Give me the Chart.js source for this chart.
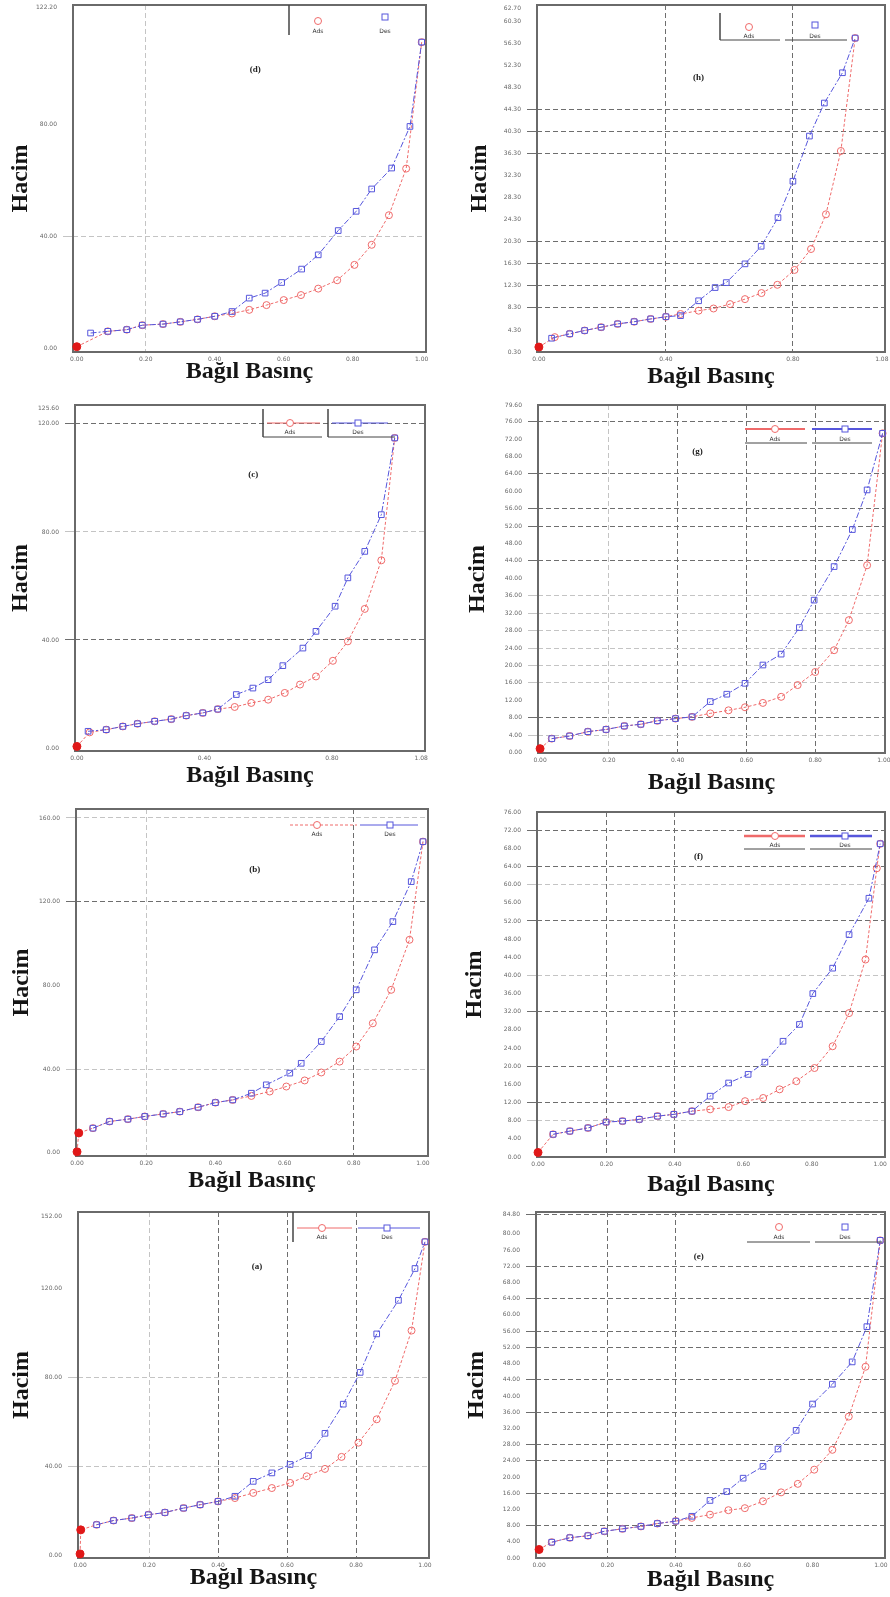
<!DOCTYPE html>
<html><head><meta charset="utf-8">
<script src="https://cdn.jsdelivr.net/npm/chart.js@4"></script>
<style>
html,body{margin:0;padding:0;background:#fff;width:890px;height:1597px;overflow:hidden;}
.pn{position:absolute;}
canvas{display:block;}
</style></head><body>
<script>
// ---------------- DATA ----------------
// (d)
const d_adsX = [0.00, 0.09, 0.145, 0.19, 0.25, 0.30, 0.35, 0.40, 0.45, 0.50, 0.55, 0.60, 0.65, 0.70, 0.755, 0.805, 0.855, 0.905, 0.955, 1.00];
const d_adsY = [0.5, 6.0, 6.6, 8.2, 8.6, 9.4, 10.3, 11.4, 12.4, 13.7, 15.4, 17.2, 19.0, 21.3, 24.3, 29.8, 37.0, 47.6, 64.3, 109.6];
const d_desX = [0.04, 0.09, 0.145, 0.19, 0.25, 0.30, 0.35, 0.40, 0.45, 0.50, 0.546, 0.594, 0.652, 0.70, 0.758, 0.81, 0.855, 0.913, 0.966, 1.00];
const d_desY = [5.4, 6.0, 6.6, 8.2, 8.6, 9.4, 10.3, 11.4, 13.1, 17.9, 19.7, 23.5, 28.3, 33.4, 42.1, 49.0, 57.0, 64.5, 79.4, 109.6];
const d_xTicks = [0, 0.2, 0.4, 0.6, 0.8, 1.0];
const d_yTicks = [0, 40, 80, 122.2];

// (h)
const h_adsX = [0.00, 0.05, 0.097, 0.144, 0.196, 0.248, 0.30, 0.352, 0.40, 0.446, 0.503, 0.55, 0.602, 0.649, 0.701, 0.751, 0.805, 0.857, 0.904, 0.951, 0.996];
const h_adsY = [1.2, 3.0, 3.6, 4.2, 4.8, 5.4, 5.8, 6.3, 6.7, 7.2, 7.8, 8.2, 9.0, 9.9, 11.0, 12.5, 15.2, 19.0, 25.3, 36.8, 57.3];
const h_desX = [0.04, 0.097, 0.144, 0.196, 0.248, 0.30, 0.352, 0.40, 0.446, 0.503, 0.555, 0.59, 0.649, 0.70, 0.753, 0.80, 0.852, 0.899, 0.956, 0.996];
const h_desY = [2.8, 3.6, 4.2, 4.8, 5.4, 5.8, 6.3, 6.7, 6.9, 9.6, 12.0, 12.9, 16.3, 19.5, 24.7, 31.3, 39.5, 45.5, 51.0, 57.3];
const h_xTicks = [0, 0.4, 0.8, 1.08];
const h_yTicks = [0.3, 4.3, 8.3, 12.3, 16.3, 20.3, 24.3, 28.3, 32.3, 36.3, 40.3, 44.3, 48.3, 52.3, 56.3, 60.3, 62.7];

// (c)
const c_adsX = [0.00, 0.04, 0.092, 0.144, 0.19, 0.244, 0.296, 0.343, 0.395, 0.442, 0.495, 0.547, 0.60, 0.652, 0.70, 0.75, 0.803, 0.85, 0.903, 0.955, 0.997];
const c_adsY = [0.6, 5.8, 6.8, 8.0, 9.0, 9.9, 10.7, 12.0, 13.0, 14.4, 15.2, 16.7, 17.9, 20.4, 23.5, 26.5, 32.3, 39.5, 51.5, 69.5, 114.8];
const c_desX = [0.035, 0.092, 0.144, 0.19, 0.244, 0.296, 0.343, 0.395, 0.442, 0.50, 0.552, 0.60, 0.646, 0.709, 0.75, 0.81, 0.85, 0.903, 0.955, 0.997];
const c_desY = [6.2, 6.8, 8.0, 9.0, 9.9, 10.7, 12.0, 13.0, 14.4, 19.8, 22.2, 25.3, 30.5, 37.0, 43.2, 52.5, 63.0, 72.8, 86.4, 114.8];
const c_xTicks = [0, 0.4, 0.8, 1.08];
const c_yTicks = [0, 40, 80, 120, 125.6];

// (g)
const g_adsX = [0.00, 0.034, 0.086, 0.139, 0.192, 0.245, 0.293, 0.341, 0.394, 0.442, 0.495, 0.548, 0.596, 0.648, 0.701, 0.749, 0.80, 0.855, 0.898, 0.951, 0.996];
const g_adsY = [0.9, 3.2, 3.8, 4.8, 5.3, 6.1, 6.5, 7.3, 7.8, 8.2, 9.0, 9.7, 10.4, 11.4, 12.8, 15.5, 18.5, 23.5, 30.4, 43.0, 73.3];
const g_desX = [0.034, 0.086, 0.139, 0.192, 0.245, 0.293, 0.341, 0.394, 0.442, 0.495, 0.543, 0.596, 0.648, 0.701, 0.754, 0.797, 0.855, 0.908, 0.951, 0.996];
const g_desY = [3.2, 3.8, 4.8, 5.3, 6.1, 6.5, 7.3, 7.8, 8.2, 11.7, 13.4, 15.9, 20.1, 22.6, 28.7, 35.0, 42.7, 51.2, 60.3, 73.3];
const g_xTicks = [0, 0.2, 0.4, 0.6, 0.8, 1.0];
const g_yTicks = [0, 4, 8, 12, 16, 20, 24, 28, 32, 36, 40, 44, 48, 52, 56, 60, 64, 68, 72, 76, 79.6];

// (b)
const b_adsX = [0.00, 0.005, 0.046, 0.094, 0.147, 0.196, 0.249, 0.297, 0.35, 0.40, 0.45, 0.504, 0.557, 0.605, 0.658, 0.706, 0.759, 0.807, 0.855, 0.908, 0.961, 1.00];
const b_adsY = [0.5, 9.5, 11.8, 15.0, 16.1, 17.4, 18.6, 19.7, 21.8, 24.0, 25.3, 27.2, 29.3, 31.7, 34.6, 38.4, 43.6, 50.8, 61.9, 77.9, 101.8, 148.7];
const b_desX = [0.046, 0.094, 0.147, 0.196, 0.249, 0.297, 0.35, 0.40, 0.45, 0.504, 0.547, 0.615, 0.648, 0.706, 0.759, 0.807, 0.86, 0.913, 0.966, 1.00];
const b_desY = [11.8, 15.0, 16.1, 17.4, 18.6, 19.7, 21.8, 24.0, 25.3, 28.5, 32.5, 38.1, 42.8, 53.2, 65.1, 77.9, 97.0, 110.5, 129.6, 148.7];
const b_xTicks = [0, 0.2, 0.4, 0.6, 0.8, 1.0];
const b_yTicks = [0, 40, 80, 120, 160];

// (f)
const f_adsX = [0.00, 0.044, 0.093, 0.146, 0.199, 0.247, 0.296, 0.349, 0.397, 0.45, 0.503, 0.557, 0.605, 0.658, 0.706, 0.755, 0.808, 0.861, 0.909, 0.957, 0.99, 1.00];
const f_adsY = [1.0, 5.0, 5.7, 6.4, 7.7, 7.9, 8.3, 9.0, 9.4, 10.1, 10.5, 11.0, 12.3, 13.0, 14.9, 16.7, 19.6, 24.4, 31.7, 43.5, 63.6, 69.0];
const f_desX = [0.044, 0.093, 0.146, 0.199, 0.247, 0.296, 0.349, 0.397, 0.45, 0.503, 0.557, 0.614, 0.663, 0.716, 0.764, 0.803, 0.861, 0.909, 0.967, 1.00];
const f_desY = [5.0, 5.7, 6.4, 7.7, 7.9, 8.3, 9.0, 9.4, 10.1, 13.4, 16.3, 18.2, 20.9, 25.5, 29.2, 36.0, 41.6, 49.0, 57.0, 69.0];
const f_xTicks = [0, 0.2, 0.4, 0.6, 0.8, 1.0];
const f_yTicks = [0, 4, 8, 12, 16, 20, 24, 28, 32, 36, 40, 44, 48, 52, 56, 60, 64, 68, 72, 76];

// (a)
const a_adsX = [0.00, 0.002, 0.048, 0.097, 0.15, 0.198, 0.246, 0.30, 0.348, 0.40, 0.449, 0.502, 0.556, 0.609, 0.657, 0.71, 0.758, 0.807, 0.86, 0.913, 0.961, 1.00];
const a_adsY = [0.5, 11.3, 13.6, 15.5, 16.6, 18.1, 19.1, 21.1, 22.6, 24.1, 25.6, 27.9, 30.1, 32.4, 35.4, 38.7, 44.1, 50.5, 61.0, 78.3, 100.9, 140.8];
const a_desX = [0.048, 0.097, 0.15, 0.198, 0.246, 0.30, 0.348, 0.40, 0.449, 0.502, 0.556, 0.609, 0.662, 0.71, 0.763, 0.812, 0.86, 0.923, 0.971, 1.00];
const a_desY = [13.6, 15.5, 16.6, 18.1, 19.1, 21.1, 22.6, 24.1, 26.4, 33.1, 36.9, 40.7, 44.7, 54.7, 67.8, 82.1, 99.4, 114.5, 128.8, 140.8];
const a_xTicks = [0, 0.2, 0.4, 0.6, 0.8, 1.0];
const a_yTicks = [0, 40, 80, 120, 152];

// (e)
const e_adsX = [0.00, 0.037, 0.09, 0.143, 0.191, 0.244, 0.298, 0.346, 0.40, 0.447, 0.50, 0.554, 0.602, 0.655, 0.708, 0.757, 0.805, 0.858, 0.906, 0.955, 0.998];
const e_adsY = [2.1, 3.9, 5.0, 5.5, 6.6, 7.2, 7.8, 8.5, 9.1, 9.9, 10.7, 11.8, 12.3, 14.0, 16.2, 18.3, 21.8, 26.7, 34.9, 47.2, 78.4];
const e_desX = [0.037, 0.09, 0.143, 0.191, 0.244, 0.298, 0.346, 0.40, 0.447, 0.50, 0.549, 0.597, 0.655, 0.699, 0.752, 0.80, 0.858, 0.916, 0.959, 0.998];
const e_desY = [3.9, 5.0, 5.5, 6.6, 7.2, 7.8, 8.5, 9.1, 10.3, 14.2, 16.4, 19.7, 22.6, 26.9, 31.5, 38.0, 42.9, 48.4, 57.1, 78.4];
const e_xTicks = [0, 0.2, 0.4, 0.6, 0.8, 1.0];
const e_yTicks = [0, 4, 8, 12, 16, 20, 24, 28, 32, 36, 40, 44, 48, 52, 56, 60, 64, 68, 72, 76, 80, 84.8];

// ---------------- LAYOUT / STYLE ----------------
const RED = '#ef6a6a', BLUE = '#5656dc';
const panels = [
  {tag:'(d)', adsX:d_adsX, adsY:d_adsY, desX:d_desX, desY:d_desY, xT:d_xTicks, yT:d_yTicks,
   xr:[-0.011,1.0125], yr:[-1.4,122.9], xDark:[], xLight:[0.2], yDark:[], yLight:[40], fillN:1,
   cx:0, cy:0, cw:445, ch:388, L:73, R:426, T:5, B:352, hx:21, tagX:0.516, tagDy:65,
   lg:{v:[[-137,0,30]], u:[], s:null, rm:[-108,16], bm:[-41,12], t:26}},
  {tag:'(h)', adsX:h_adsX, adsY:h_adsY, desX:h_desX, desY:h_desY, xT:h_xTicks, yT:h_yTicks,
   xr:[-0.006,1.09], yr:[0.3,63.3], xDark:[0.4,0.8], xLight:[], yDark:[8.3,12.3,16.3,20.3,36.3,40.3,44.3], yLight:[], fillN:1,
   cx:445, cy:0, cw:445, ch:393, L:537, R:888, T:5, B:352, hx:35, tagX:0.464, tagDy:73,
   lg:{v:[[-165,8,35]], u:[[-165,-105,35],[-100,-38,35]], s:null, rm:[-136,22], bm:[-70,20], t:31}},
  {tag:'(c)', adsX:c_adsX, adsY:c_adsY, desX:c_desX, desY:c_desY, xT:c_xTicks, yT:c_yTicks,
   xr:[-0.006,1.092], yr:[-1.1,127], xDark:[], xLight:[], yDark:[120,40], yLight:[80], fillN:1,
   cx:0, cy:400, cw:445, ch:392, L:75, R:425, T:405, B:751, hx:21, tagX:0.509, tagDy:70,
   lg:{v:[[-162,4,32],[-97,4,32]], u:[[-162,-103,32],[-97,-30,32]], s:{dy:18, r:[-158,-105], b:[-93,-37], w:1, rd:false}, rm:[-135,18], bm:[-67,18], t:27}},
  {tag:'(g)', adsX:g_adsX, adsY:g_adsY, desX:g_desX, desY:g_desY, xT:g_xTicks, yT:g_yTicks,
   xr:[-0.006,1.003], yr:[-0.1,79.8], xDark:[0.4,0.6,0.8], xLight:[0.2], yDark:[76,64,56,52,44,8], yLight:[36,32,28,24,20,16,4], fillN:1,
   cx:445, cy:400, cw:445, ch:399, L:538, R:888, T:405, B:753, hx:33, tagX:0.46, tagDy:47,
   lg:{v:[], u:[[-140,-78,38],[-73,-13,38]], s:{dy:24, r:[-140,-80], b:[-73,-13], w:2, rd:false}, rm:[-110,24], bm:[-40,24], t:34}},
  {tag:'(b)', adsX:b_adsX, adsY:b_adsY, desX:b_desX, desY:b_desY, xT:b_xTicks, yT:b_yTicks,
   xr:[-0.003,1.0145], yr:[-1.5,164.3], xDark:[0.8], xLight:[0.2], yDark:[120], yLight:[160,40], fillN:2,
   cx:0, cy:804, cw:445, ch:393, L:76, R:428, T:809, B:1156, hx:22, tagX:0.508, tagDy:61,
   lg:{v:[], u:[], s:{dy:16, r:[-138,-71], b:[-68,-10], w:1, rd:true}, rm:[-111,16], bm:[-38,16], t:25}},
  {tag:'(f)', adsX:f_adsX, adsY:f_adsY, desX:f_desX, desY:f_desY, xT:f_xTicks, yT:f_yTicks,
   xr:[-0.003,1.014], yr:[0,76], xDark:[0.2,0.4], xLight:[], yDark:[72,64,52,32,20,12], yLight:[60,40,8], fillN:1,
   cx:445, cy:807, cw:445, ch:394, L:537, R:888, T:812, B:1157, hx:30, tagX:0.464, tagDy:45,
   lg:{v:[], u:[[-141,-80,37],[-75,-13,37]], s:{dy:24, r:[-141,-80], b:[-75,-13], w:2.5, rd:false}, rm:[-110,24], bm:[-40,24], t:33}},
  {tag:'(a)', adsX:a_adsX, adsY:a_adsY, desX:a_desX, desY:a_desY, xT:a_xTicks, yT:a_yTicks,
   xr:[-0.006,1.0116], yr:[-1.35,154.2], xDark:[0.4,0.6,0.8], xLight:[0.2], yDark:[], yLight:[80,40], fillN:2,
   cx:0, cy:1207, cw:445, ch:387, L:78, R:429, T:1212, B:1558, hx:22, tagX:0.51, tagDy:55,
   lg:{v:[[-136,0,30]], u:[], s:{dy:16, r:[-132,-77], b:[-71,-9], w:1, rd:false}, rm:[-107,16], bm:[-42,16], t:25}},
  {tag:'(e)', adsX:e_adsX, adsY:e_adsY, desX:e_desX, desY:e_desY, xT:e_xTicks, yT:e_yTicks,
   xr:[-0.009,1.012], yr:[0,85.4], xDark:[0.2,0.4], xLight:[], yDark:[84.8,72,64,56,52,44,36,28,24,16,8], yLight:[], fillN:1,
   cx:445, cy:1207, cw:445, ch:389, L:536, R:888, T:1212, B:1558, hx:32, tagX:0.466, tagDy:45,
   lg:{v:[], u:[[-138,-75,30],[-70,-3,30]], s:null, rm:[-106,15], bm:[-40,15], t:25}}
];

const near = (arr, v) => arr.some(a => Math.abs(a - v) < 1e-6);
function gridCol(ctx, dark, light) {
  if (!ctx.tick) return 'rgba(0,0,0,0)';
  const v = ctx.tick.value;
  if (near(dark, v)) return '#6e6e6e';
  if (near(light, v)) return '#c4c4c4';
  return 'rgba(0,0,0,0)';
}

function marker(ctx, kind, x, y, color) {
  ctx.save();
  ctx.setLineDash([]);
  ctx.strokeStyle = color; ctx.lineWidth = 1; ctx.fillStyle = '#fff';
  if (kind === 'c') { ctx.beginPath(); ctx.arc(x, y, 3.5, 0, Math.PI * 2); ctx.fill(); ctx.stroke(); }
  else { ctx.fillRect(x - 3, y - 3, 6, 6); ctx.strokeRect(x - 3, y - 3, 6, 6); }
  ctx.restore();
}

const decor = {
  id: 'decor',
  beforeDatasetsDraw(chart, args, o) {
    const {ctx, chartArea: a} = chart;
    ctx.save();
    ctx.strokeStyle = '#6a6a6a'; ctx.lineWidth = 2; ctx.setLineDash([]);
    ctx.strokeRect(a.left, a.top, a.right - a.left, a.bottom - a.top);
    ctx.restore();
  },
  afterDraw(chart, args, o) {
    const {ctx, chartArea: a} = chart;
    const p = o.p, lg = p.lg;
    ctx.save();
    ctx.fillStyle = '#222';
    ctx.font = 'bold 9px "Liberation Serif"';
    ctx.textAlign = 'center'; ctx.textBaseline = 'middle';
    ctx.fillText(p.tag, a.left + (a.right - a.left) * p.tagX, a.top + p.tagDy);
    // legend
    ctx.strokeStyle = '#444'; ctx.lineWidth = 1;
    lg.v.forEach(([dx, y0, y1]) => {
      ctx.lineWidth = 1.5;
      ctx.beginPath(); ctx.moveTo(a.right + dx, a.top + y0); ctx.lineTo(a.right + dx, a.top + y1); ctx.stroke();
    });
    ctx.lineWidth = 1;
    lg.u.forEach(([x0, x1, dy]) => {
      ctx.beginPath(); ctx.moveTo(a.right + x0, a.top + dy); ctx.lineTo(a.right + x1, a.top + dy); ctx.stroke();
    });
    if (lg.s) {
      const s = lg.s;
      ctx.lineWidth = s.w;
      ctx.strokeStyle = RED; ctx.setLineDash(s.rd ? [3, 2] : []);
      ctx.beginPath(); ctx.moveTo(a.right + s.r[0], a.top + s.dy); ctx.lineTo(a.right + s.r[1], a.top + s.dy); ctx.stroke();
      ctx.strokeStyle = BLUE; ctx.setLineDash([]);
      ctx.beginPath(); ctx.moveTo(a.right + s.b[0], a.top + s.dy); ctx.lineTo(a.right + s.b[1], a.top + s.dy); ctx.stroke();
    }
    marker(ctx, 'c', a.right + lg.rm[0], a.top + lg.rm[1], RED);
    marker(ctx, 'r', a.right + lg.bm[0], a.top + lg.bm[1], BLUE);
    ctx.fillStyle = '#333';
    ctx.font = '6px "DejaVu Sans"';
    ctx.fillText('Ads', a.right + lg.rm[0], a.top + lg.t);
    ctx.fillText('Des', a.right + lg.bm[0], a.top + lg.t);
    ctx.restore();
  }
};

const tickFont = {family: '"DejaVu Sans"', size: 6};
const titleFont = {family: '"Liberation Serif"', size: 24, weight: 'bold', lineHeight: 1};

panels.forEach(p => {
  const div = document.createElement('div');
  div.className = 'pn';
  div.style.left = p.cx + 'px'; div.style.top = p.cy + 'px';
  div.style.width = p.cw + 'px'; div.style.height = p.ch + 'px';
  const cv = document.createElement('canvas');
  cv.width = p.cw; cv.height = p.ch;
  div.appendChild(cv);
  document.body.appendChild(div);

  const ads = p.adsX.map((x, i) => ({x: x, y: p.adsY[i]}));
  const des = p.desX.map((x, i) => ({x: x, y: p.desY[i]}));

  new Chart(cv, {
    type: 'scatter',
    data: {datasets: [
      {label: 'Des', data: des, showLine: true, clip: false,
       borderColor: BLUE, borderWidth: 1, borderDash: [6, 2, 2, 2],
       pointStyle: 'rect', pointRadius: 4, pointBorderColor: BLUE, pointBorderWidth: 1,
       pointBackgroundColor: 'rgba(255,255,255,0)', tension: 0},
      {label: 'Ads', data: ads, showLine: true, clip: false,
       borderColor: RED, borderWidth: 1, borderDash: [3, 2],
       pointStyle: 'circle',
       pointRadius: c => c.dataIndex < p.fillN ? 4 : 3.5,
       pointBorderColor: c => c.dataIndex < p.fillN ? '#e01818' : RED, pointBorderWidth: 1,
       pointBackgroundColor: c => c.dataIndex < p.fillN ? '#e01818' : 'rgba(255,255,255,0)', tension: 0}
    ]},
    options: {
      responsive: false, animation: false, events: [],
      layout: {padding: {left: 0, top: p.T - p.cy, right: p.cx + p.cw - p.R, bottom: 0}},
      plugins: {legend: {display: false}, tooltip: {enabled: false}, decor: {p: p}},
      scales: {
        x: {
          type: 'linear', position: 'bottom', min: p.xr[0], max: p.xr[1],
          afterBuildTicks: s => { s.ticks = p.xT.map(v => ({value: v})); },
          afterFit: s => { s.height = p.cy + p.ch - p.B; s.paddingLeft = 0; s.paddingRight = 0; },
          ticks: {autoSkip: false, maxRotation: 0, minRotation: 0, padding: 4, font: tickFont, color: '#666',
                  callback: v => Number(v).toFixed(2)},
          grid: {drawTicks: false, lineWidth: 1, color: c => gridCol(c, p.xDark, p.xLight)},
          border: {display: false, dash: [5, 3]},
          title: {display: true, text: 'Bağıl Basınç', font: titleFont, color: '#151515', padding: {top: 0, bottom: 4}}
        },
        y: {
          type: 'linear', position: 'left', min: p.yr[0], max: p.yr[1],
          afterBuildTicks: s => { s.ticks = p.yT.map(v => ({value: v})); },
          afterFit: s => { s.width = p.L - p.cx; s.paddingTop = 0; s.paddingBottom = 0; },
          ticks: {autoSkip: false, padding: 6, font: tickFont, color: '#666',
                  callback: v => Number(v).toFixed(2)},
          grid: {drawTicks: true, tickLength: 10, lineWidth: 1,
                 color: c => gridCol(c, p.yDark, p.yLight),
                 tickColor: c => gridCol(c, p.yDark, p.yLight)},
          border: {display: false, dash: [5, 3]},
          title: {display: true, text: 'Hacim', font: titleFont, color: '#151515', padding: {top: p.hx - 12, bottom: 0}}
        }
      }
    },
    plugins: [decor]
  });
});
</script>
</body></html>
